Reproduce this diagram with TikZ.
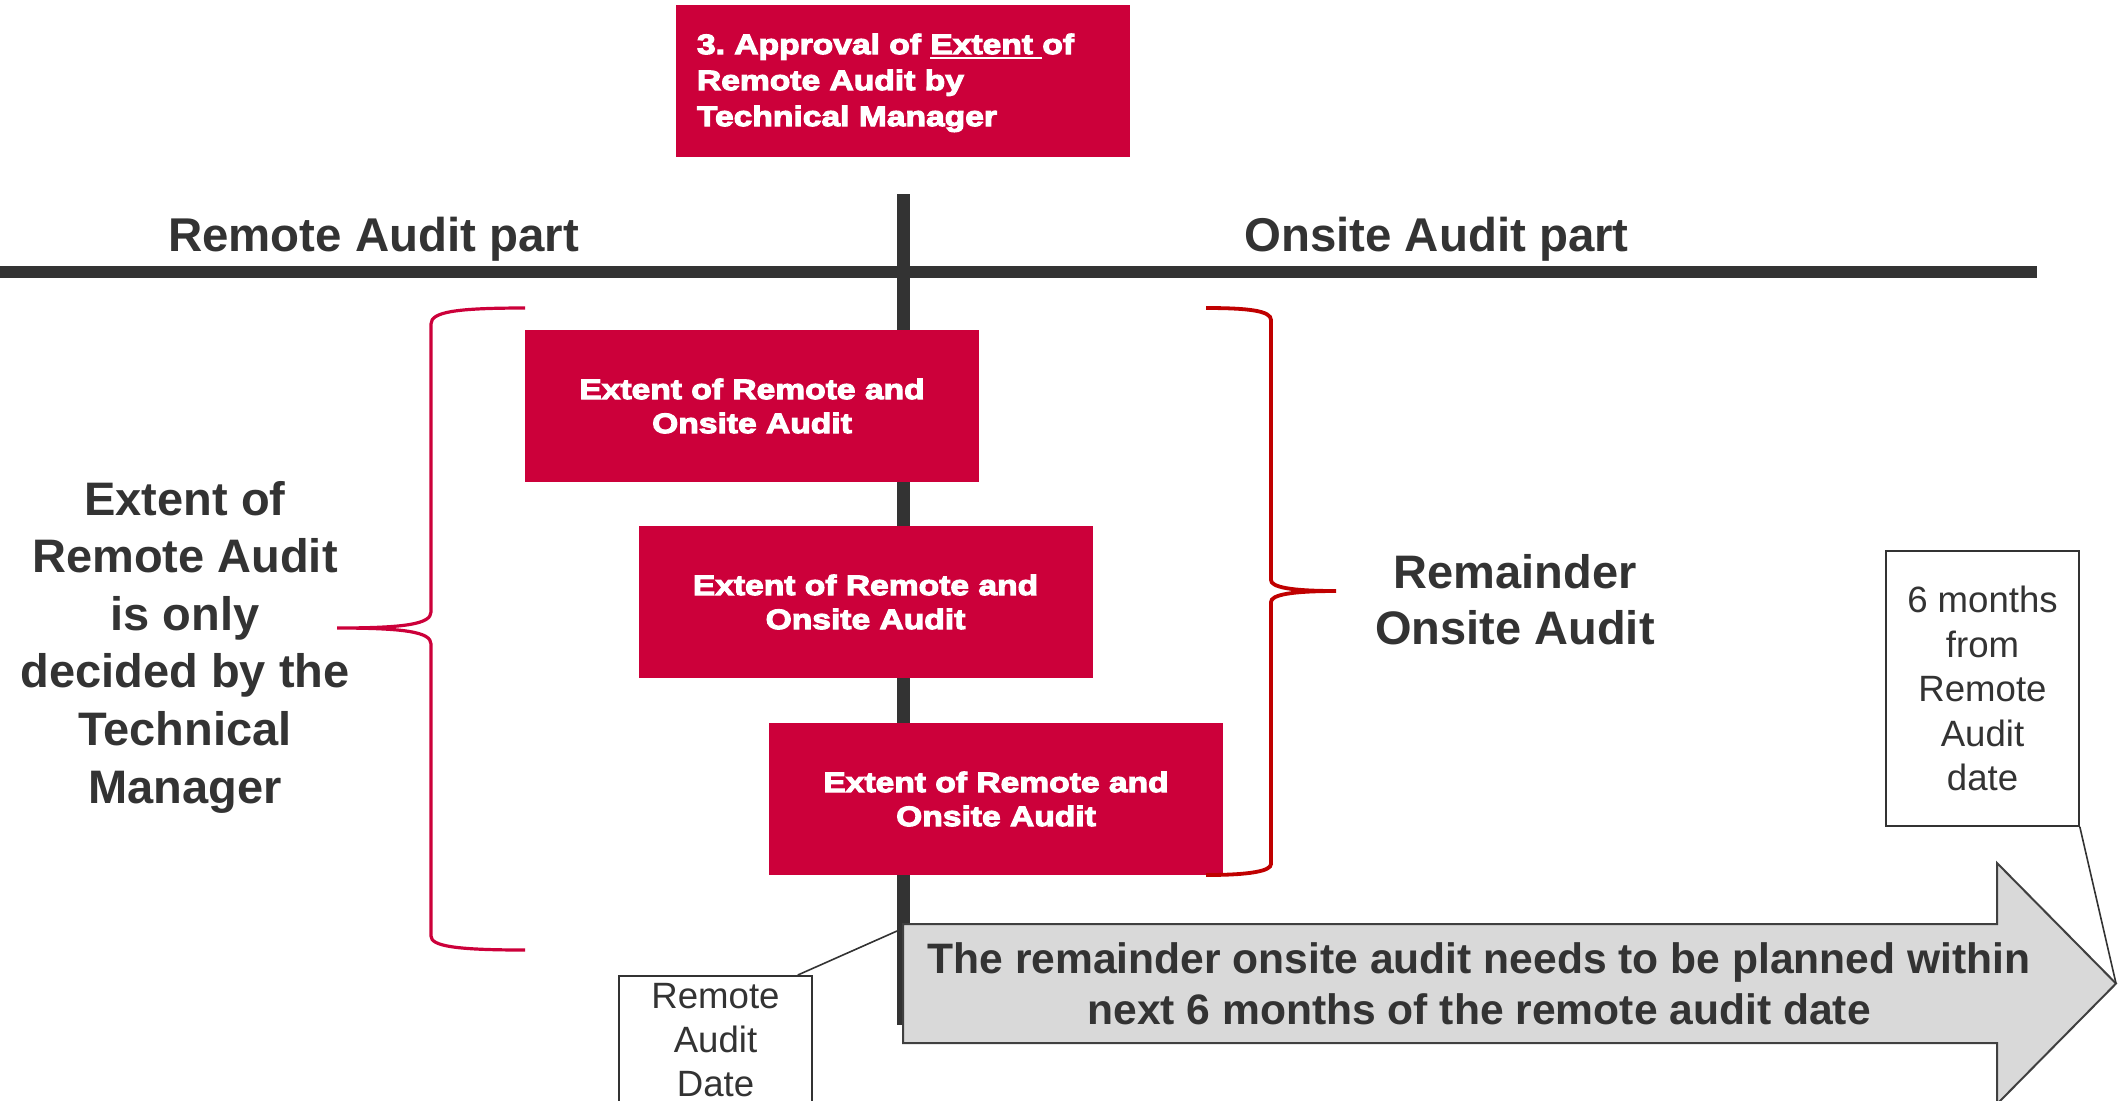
\documentclass[tikz,border=0pt]{standalone}
\usepackage{fontspec}
\setmainfont{Liberation Sans}
\newfontface\blackfont{Liberation Sans Bold}[FakeStretch=1.2, FakeBold=4]
\usetikzlibrary{calc}
\definecolor{boxred}{RGB}{204,0,58}
\definecolor{bracered}{RGB}{192,0,0}
\definecolor{darktext}{RGB}{51,51,51}
\definecolor{arrowfill}{RGB}{217,217,217}
\definecolor{arrowline}{RGB}{64,64,64}
\newcommand\myul[1]{\sbox0{#1}\rlap{\rule[-2.6pt]{\wd0}{1pt}}\usebox0}
\frenchspacing
\begin{document}
\begin{tikzpicture}[x=0.5pt,y=-0.5pt,
  redbox/.style={rectangle, fill=boxred, text=white, minimum width=227pt,
    minimum height=76pt, inner sep=0pt, align=center,
    font=\blackfont\fontsize{14pt}{17pt}\selectfont},
  heading/.style={text=darktext, inner sep=0pt, anchor=base,
    font=\bfseries\fontsize{23.7pt}{28pt}\selectfont},
  bigtext/.style={text=darktext, inner sep=0pt, align=center,
    font=\bfseries\fontsize{23.5pt}{28.8pt}\selectfont},
  arrowtext/.style={text=darktext, inner sep=0pt, align=center,
    font=\bfseries\fontsize{21.3pt}{25.5pt}\selectfont},
  callbox/.style={draw=darktext, line width=0.8pt, fill=white, text=darktext,
    align=center, inner xsep=2pt, inner ysep=3.5pt, minimum width=96.5pt,
    font=\fontsize{18.3pt}{22.2pt}\selectfont},
  barline/.style={draw=darktext, line cap=butt},
  lbrace/.style={draw=boxred, line width=1.6pt},
  rbrace/.style={draw=bracered, line width=1.9pt},
  callline/.style={draw=darktext, line width=0.8pt}]
\fill[white] (0,0) rectangle (2118,1100);
\clip (0,0) rectangle (2118,1100);
% main axes
\coordinate (hl0) at (0,272);
\coordinate (hl1) at (2037,272);
\coordinate (vb0) at (903.5,194);
\coordinate (vb1) at (903.5,1025);
\draw[barline, line width=6.3pt] (hl0) -- (hl1);
\draw[barline, line width=6.8pt] (vb0) -- (vb1);
% approval box
\node[redbox, align=left, text width=206pt, inner xsep=10.5pt,
  font=\blackfont\fontsize{14pt}{18pt}\selectfont] (approval) at (903,81)
  {\rule{0pt}{12pt}3. Approval of \myul{Extent\ }of\\Remote Audit by\\Technical Manager};
% headings
\node[heading] (rhead) at (373.5,251) {Remote Audit part};
\node[heading] (ohead) at (1436.5,251) {Onsite Audit part};
% red boxes
\node[redbox] (e1) at (752,406) {Extent of Remote and\\Onsite Audit};
\node[redbox] (e2) at (865.5,602) {Extent of Remote and\\Onsite Audit};
\node[redbox] (e3) at (996,799) {Extent of Remote and\\Onsite Audit};
% braces
\draw[lbrace] (525,308) .. controls (455,308) and (431,312) .. (431,324)
  -- (431,612) .. controls (431,624) and (405,628) .. (337,628)
  .. controls (405,628) and (431,632) .. (431,644)
  -- (431,936) .. controls (431,946) and (455,950) .. (525,950);
\draw[rbrace] (1206,308) .. controls (1250,308) and (1271,311) .. (1271,320)
  -- (1271,580) .. controls (1271,587) and (1290,591) .. (1336,591)
  .. controls (1290,591) and (1271,595) .. (1271,602)
  -- (1271,864) .. controls (1271,871) and (1250,875) .. (1206,875);
% side labels
\node[bigtext] (lbl) at (185,647) {Extent of\\Remote Audit\\is only\\decided by the\\Technical\\Manager};
\node[bigtext, font=\bfseries\fontsize{23.5pt}{28pt}\selectfont] (rem) at (1515,600) {Remainder\\Onsite Audit};
% arrow
\filldraw[fill=arrowfill, draw=arrowline, line width=1pt, line join=miter]
  (903,924) -- (1997,924) -- (1997,863) -- (2116,983.5) -- (1997,1104)
  -- (1997,1043) -- (903,1043) -- cycle;
\coordinate (tip) at (2116,983.5);
\node[arrowtext] (atext) at (1479,984) {The remainder onsite audit needs to be planned within\\next 6 months of the remote audit date};
% callouts
\node[callbox, anchor=north] (rad) at (715.5,975) {Remote\\Audit\\Date};
\node[callbox, minimum height=137.5pt] (six) at (1982.5,688.5) {6 months\\from\\Remote\\Audit\\date};
\coordinate (radhook) at (897,931);
\draw[callline] ($(rad.north east)+(-15,0)$) -- (radhook);
\draw[callline] (six.south east) -- (tip);
\end{tikzpicture}
\end{document}
